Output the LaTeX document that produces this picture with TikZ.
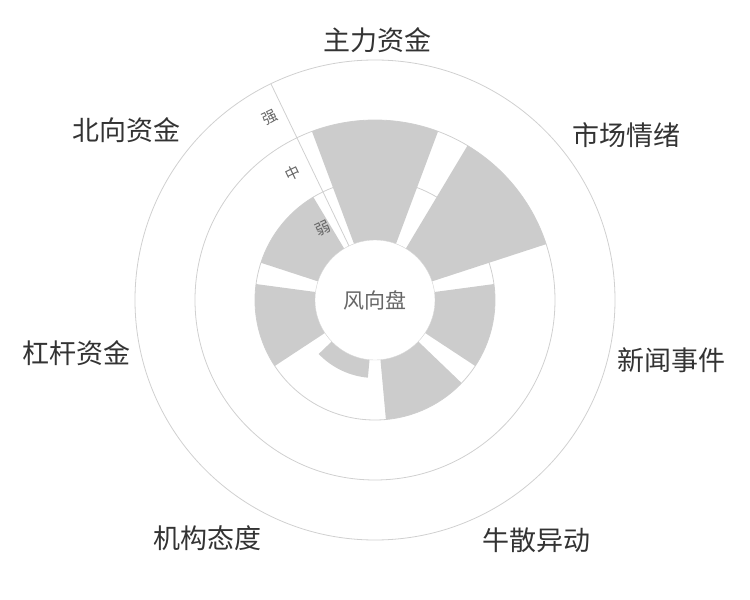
\documentclass[tikz,border=0pt]{standalone}
\usepackage{fontspec}
\newfontfamily\cjk{Noto Sans CJK SC}
\definecolor{barfill}{HTML}{CCCCCC}
\definecolor{ringline}{HTML}{D0D0D0}
\definecolor{labeltext}{HTML}{333333}
\definecolor{axistext}{HTML}{666666}
\tikzset{
  bar/.style={fill=barfill},
  ring/.style={draw=ringline, line width=0.8pt},
  catlabel/.style={font=\cjk\fontsize{27}{30}\selectfont, text=labeltext, inner sep=0pt},
  levellabel/.style={font=\cjk\fontsize{15}{17}\selectfont, text=axistext, inner sep=0pt, rotate=25.7}
}
\begin{document}
\begin{tikzpicture}[x=1pt, y=1pt]
  \useasboundingbox (-375,-300) rectangle (375,300);

  % rings
  \draw[ring] (0,0) circle (240);
  \draw[ring] (0,0) circle (180);
  \draw[ring] (0,0) circle (120);
  \draw[ring] (115.7:60) -- (115.7:240);

  % bars, one per sector
  \foreach \k/\r in {0/180, 1/180, 2/120, 3/120, 4/78, 5/120, 6/120} {
    \pgfmathsetmacro\a{90-\k*360/7}
    \fill[bar] (\a-20.5:60) arc[start angle=\a-20.5, end angle=\a+20.5, radius=60]
      -- (\a+20.5:\r) arc[start angle=\a+20.5, end angle=\a-20.5, radius=\r] -- cycle;
  }

  % centre
  \node[circle, draw=ringline, fill=white, minimum size=120pt, inner sep=0pt,
        font=\cjk\fontsize{21}{24}\selectfont, text=axistext] (hub) at (0,0) {风向盘};

  % level labels
  \node[levellabel] (strong) at (120:211) {强};
  \node[levellabel] (mid) at (123:151) {中};
  \node[levellabel] (weak) at (126:89) {弱};

  % category labels
  \node[catlabel] (main) at (3,260) {主力资金};
  \node[catlabel] (mood) at (251,165) {市场情绪};
  \node[catlabel] (news) at (296,-60) {新闻事件};
  \node[catlabel] (bull) at (161,-240) {牛散异动};
  \node[catlabel] (inst) at (-167,-238) {机构态度};
  \node[catlabel] (lever) at (-298,-53) {杠杆资金};
  \node[catlabel] (north) at (-248,170) {北向资金};
\end{tikzpicture}
\end{document}
